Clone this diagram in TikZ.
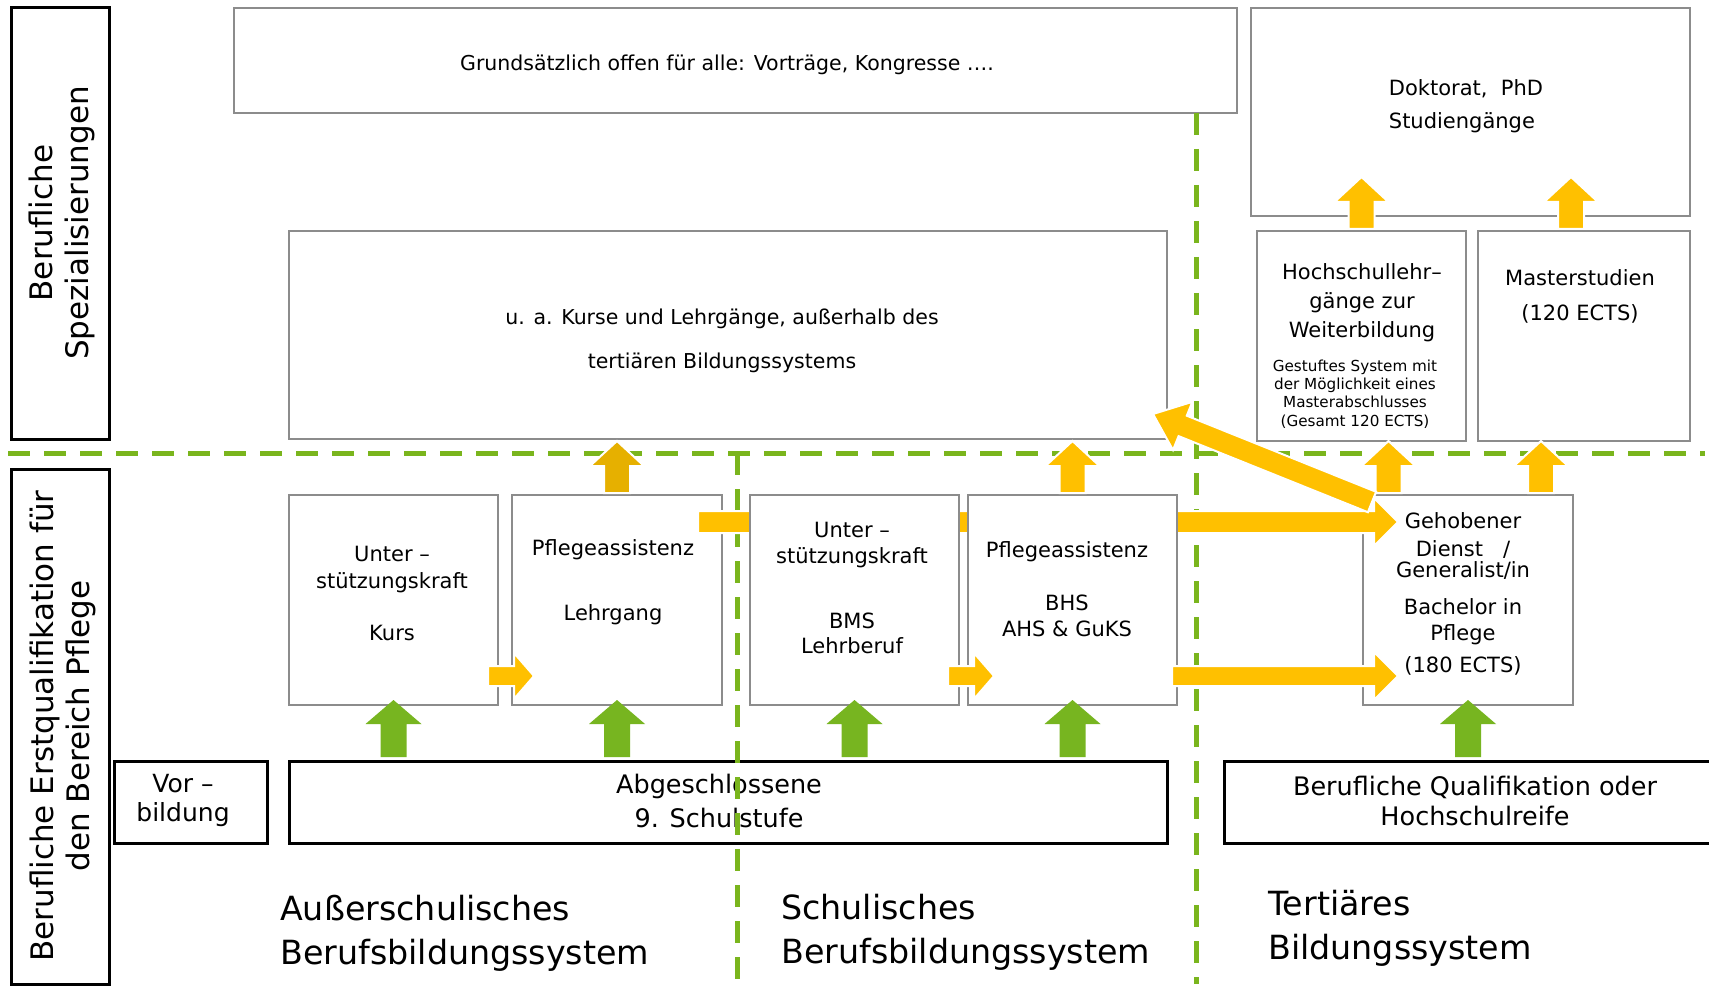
\documentclass[tikz,border=0pt]{standalone}
\usepackage{fontspec}
\setmainfont{DejaVu Sans}
\usetikzlibrary{calc}
\definecolor{yel}{HTML}{FFC000}
\definecolor{gold}{HTML}{E6B000}
\definecolor{grn}{HTML}{77B520}
\definecolor{dgrn}{HTML}{7AB51D}
\definecolor{bgray}{HTML}{8C8C8C}
\newcommand\fsz[2]{\fontsize{#1}{#2}\selectfont}
% block arrow: #1 style, #2 from, #3 to, #4 half shaft, #5 half head, #6 head length
\newcommand\barrow[6]{%
  \path[#1] let \p1=(#2),\p2=(#3),\n1={atan2(\y2-\y1,\x2-\x1)},\n2={veclen(\x2-\x1,\y2-\y1)} in
   [shift={(\p1)},rotate=\n1] (0,#4) -- ({\n2-#6},#4) -- ({\n2-#6},#5) -- (\n2,0) -- ({\n2-#6},-#5) -- ({\n2-#6},-#4) -- (0,-#4) -- cycle;}
\newcommand\bx[6]{\node[#1, anchor=north west, minimum width={#5-#3}, minimum height={#6-#4}] (#2) at (#3,#4) {};}
\tikzset{
 gbox/.style={draw=bgray, line width=2.5pt, fill=white, inner sep=0pt, outer sep=0pt},
 kbox/.style={draw=black, line width=3pt, fill=white, inner sep=0pt, outer sep=0pt},
 gdash/.style={draw=dgrn, line width=5pt, dash pattern=on 22pt off 14pt},
 ya/.style={fill=yel, draw=white, line width=2pt},
 yd/.style={fill=gold, draw=white, line width=2pt},
 ga/.style={fill=grn},
 txt/.style={inner sep=0pt, align=center, text=black},
}
\begin{document}
\begin{tikzpicture}[x=1pt,y=-1pt]
\fill[white] (0,0) rectangle (1709,995);
\clip (0,0) rectangle (1709,995);
% boxes
\bx{kbox}{lb1}{11}{8}{109}{439}
\bx{kbox}{lb2}{11}{469}{109}{984}
\bx{gbox}{top}{234}{8}{1237}{113}
\bx{gbox}{dok}{1251}{8}{1690}{216}
\bx{gbox}{ua}{289}{231}{1167}{439}
\bx{gbox}{hs}{1257}{231}{1466}{441}
\bx{gbox}{ms}{1478}{231}{1690}{441}
\bx{gbox}{kurs}{289}{495}{498}{705}
\bx{gbox}{lehr}{512}{495}{722}{705}
\bx{gbox}{bms}{750}{495}{959}{705}
\bx{gbox}{bhs}{968}{495}{1177}{705}
\bx{gbox}{geh}{1363}{495}{1573}{705}
\bx{kbox}{vor}{114}{761}{267}{843}
\bx{kbox}{abg}{289}{761}{1167}{843}
\bx{kbox}{bq}{1224}{761}{1725}{843}
\node[txt, font=\fsz{25.5}{34}] (abg-t) at (719,801) {Abgeschlossene\\9. Schulstufe};
% dashed dividers
\coordinate (h1) at (8,453);
\coordinate (h2) at (1705,453);
\coordinate (v1a) at (737,453);
\coordinate (v1b) at (737,981);
\coordinate (v2a) at (1196,113);
\coordinate (v2b) at (1196,984);
\draw[gdash] (h1) -- (h2);
\draw[gdash] (v1a) -- (v1b);
\draw[gdash] (v2a) -- (v2b);
% long upper arrow, behind BMS / BHS boxes
\coordinate (rj1) at ($(lehr.north east)+(-24,27)$);
\coordinate (rj2) at ($(geh.north west)+(35,27)$);
\barrow{ya}{rj1}{rj2}{11}{24}{24}
\filldraw[gbox] (bms.south west) rectangle (bms.north east);
\filldraw[gbox] (bhs.south west) rectangle (bhs.north east);
% green arrows
\coordinate (g1a) at ($(abg.north -| kurs.south)+(0,-4)$);
\coordinate (g1b) at ($(kurs.south)+(0,-5)$);
\coordinate (g2a) at ($(abg.north -| lehr.south)+(0,-4)$);
\coordinate (g2b) at ($(lehr.south)+(0,-5)$);
\coordinate (g3a) at ($(abg.north -| bms.south)+(0,-4)$);
\coordinate (g3b) at ($(bms.south)+(0,-5)$);
\coordinate (g4a) at ($(abg.north -| bhs.south)+(0,-4)$);
\coordinate (g4b) at ($(bhs.south)+(0,-5)$);
\coordinate (g5a) at ($(bq.north -| geh.south)+(0,-4)$);
\coordinate (g5b) at ($(geh.south)+(0,-5)$);
\barrow{ga}{g1a}{g1b}{13}{28}{24}
\barrow{ga}{g2a}{g2b}{13}{28}{24}
\barrow{ga}{g3a}{g3b}{13}{28}{24}
\barrow{ga}{g4a}{g4b}{13}{28}{24}
\barrow{ga}{g5a}{g5b}{13}{28}{24}
% yellow up arrows
\coordinate (ya1) at ($(lehr.north)+(0,-2)$);
\coordinate (ya2) at ($(ua.south -| lehr.north)+(0,2)$);
\coordinate (yb1) at ($(bhs.north)+(0,-2)$);
\coordinate (yb2) at ($(ua.south -| bhs.north)+(0,2)$);
\coordinate (yc1) at ($(geh.north -| hs.south)+(27,-2)$);
\coordinate (yc2) at ($(hs.south)+(27,0)$);
\coordinate (yd1) at ($(geh.north -| ms.south)+(-43,-2)$);
\coordinate (yd2) at ($(ms.south)+(-43,0)$);
\coordinate (ye1) at ($(hs.north)+(0,-2)$);
\coordinate (ye2) at ($(dok.south -| hs.north)+(0,-39)$);
\coordinate (yf1) at ($(ms.north)+(-13,-2)$);
\coordinate (yf2) at ($(dok.south -| ms.north)+(-13,-39)$);
\barrow{yd}{ya1}{ya2}{13}{27}{25}
\barrow{ya}{yb1}{yb2}{13}{27}{25}
\barrow{ya}{yc1}{yc2}{13}{27}{25}
\barrow{ya}{yd1}{yd2}{13}{27}{25}
\barrow{ya}{ye1}{ye2}{13}{27}{25}
\barrow{ya}{yf1}{yf2}{13}{27}{25}
% yellow right arrows
\coordinate (rg1) at ($(kurs.south east)+(-10,-29)$);
\coordinate (rg2) at ($(lehr.south west)+(22,-29)$);
\coordinate (rh1) at ($(bms.south east)+(-11,-29)$);
\coordinate (rh2) at ($(bhs.south west)+(26,-29)$);
\coordinate (ri1) at ($(bhs.south east)+(-5,-29)$);
\coordinate (ri2) at ($(geh.south west)+(35,-29)$);
\barrow{ya}{rg1}{rg2}{10}{23}{20}
\barrow{ya}{rh1}{rh2}{10}{23}{20}
\barrow{ya}{ri1}{ri2}{10}{24}{24}
% diagonal arrow
\coordinate (dk1) at ($(geh.north west)+(9,7)$);
\coordinate (dk2) at ($(ua.south east)+(-14,-25)$);
\barrow{ya}{dk1}{dk2}{11}{26}{32}
% texts
\node[txt, rotate=90, font=\fsz{31}{36}] (lb1-t) at (62,223) {Berufliche\\Spezialisierungen};
\node[txt, rotate=90, font=\fsz{31}{36}] (lb2-t) at (63,726) {Berufliche Erstqualifikation für\\den Bereich Pflege};
\node[txt, font=\fsz{20.5}{24}] (top-t) at (727,65) {Grundsätzlich offen für alle: Vorträge, Kongresse ….};
\node[txt, align=left, font=\fsz{21}{33}] (dok-t) at (1466,106) {Doktorat,\ \ PhD\\Studiengänge};
\node[txt, font=\fsz{20.5}{44}] (ua-t) at (722,341) {u. a. Kurse und Lehrgänge, außerhalb des\\tertiären Bildungssystems};
\node[txt, font=\fsz{21}{29}] (hs-t) at (1362,303) {Hochschullehr–\\gänge zur\\Weiterbildung};
\node[txt, font=\fsz{15.2}{18.3}] (hs-s) at (1355,394) {Gestuftes System mit\\der Möglichkeit eines\\Masterabschlusses\\(Gesamt 120 ECTS)};
\node[txt, font=\fsz{21}{35}] (ms-t) at (1580,296) {Masterstudien\\(120 ECTS)};
\node[txt, font=\fsz{21}{27}] (kurs-t) at (392,593) {Unter –\\stützungskraft\\[25pt]Kurs};
\node[txt, font=\fsz{21}{27}] (lehr-t) at (613,582) {Pflegeassistenz\\[38pt]Lehrgang};
\node[txt, font=\fsz{21}{25.5}] (bms-t) at (852,588) {Unter –\\stützungskraft\\[39.5pt]BMS\\Lehrberuf};
\node[txt, font=\fsz{21}{26}] (bhs-t) at (1067,589) {Pflegeassistenz\\[27pt]BHS\\AHS \& GuKS};
\node[txt, font=\fsz{21}{26}] (geh-t) at (1463,594) {Gehobener\\[2pt]Dienst\ \ \ /\\[-5pt]Generalist/in\\[11pt]Bachelor in\\Pflege\\[6pt](180 ECTS)};
\node[txt, font=\fsz{25}{29}] (vor-t) at (183,800) {Vor –\\bildung};
\node[txt, font=\fsz{25.5}{30}] (bq-t) at (1475,801) {Berufliche Qualifikation oder\\Hochschulreife};
\node[txt, align=left, anchor=west, font=\fsz{33.3}{44}] (s1) at (280,933) {Außerschulisches\\Berufsbildungssystem};
\node[txt, align=left, anchor=west, font=\fsz{33.3}{44}] (s2) at (781,932) {Schulisches\\Berufsbildungssystem};
\node[txt, align=left, anchor=west, font=\fsz{33.3}{44}] (s3) at (1268,928) {Tertiäres\\Bildungssystem};
\end{tikzpicture}
\end{document}
